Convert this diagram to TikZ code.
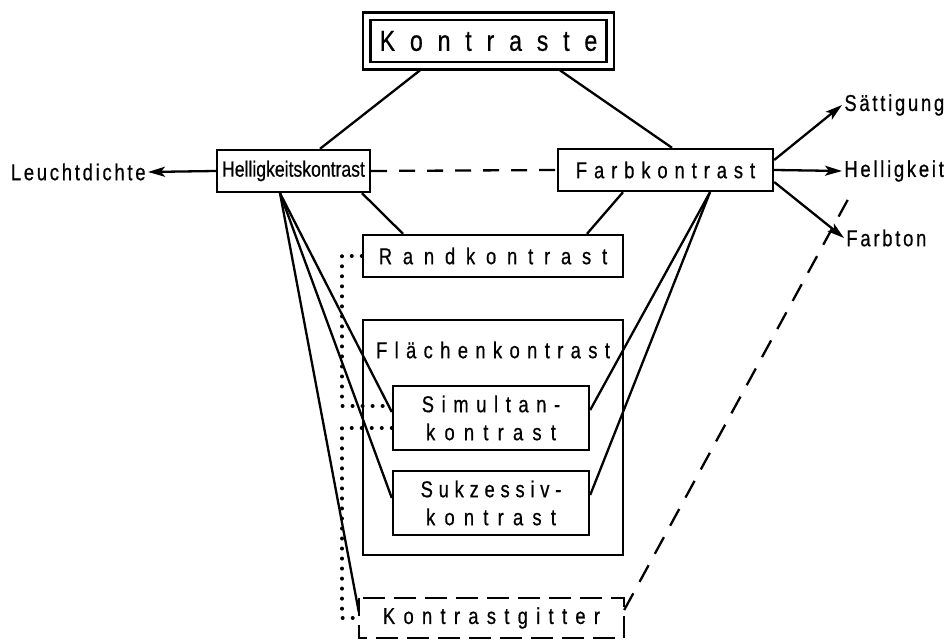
\documentclass[tikz,border=0pt]{standalone}
\usepackage{fontspec}
\setmainfont{Liberation Sans}[FakeStretch=0.8,FakeBold=0.6]
\usetikzlibrary{arrows.meta,calc}
\newcommand{\lsp}[2]{{\addfontfeatures{LetterSpace=#1}#2}}
\begin{document}
\begin{tikzpicture}[x=0.5pt,y=-0.5pt,
  boxstyle/.style={draw,line width=1.2pt,inner sep=0pt,align=center,
                   font=\fontsize{11.5}{14}\selectfont},
  lbl/.style={inner sep=1pt,font=\fontsize{11.5}{14}\selectfont},
  link/.style={line width=1.15pt},
  arr/.style={line width=1.15pt,-{Stealth[length=8.5pt,width=5pt,inset=2pt]}},
  dashlink/.style={line width=1.15pt,dash pattern=on 8pt off 6pt},
  longdash/.style={line width=1.15pt,dash pattern=on 9.5pt off 6.5pt},
  dotlink/.style={line width=2pt,line cap=round,dash pattern=on 0.01pt off 5pt}]
\useasboundingbox (0,0) rectangle (947,640);

% boxes
\node[boxstyle,double,double distance=2.4pt,outer sep=2.3pt,
      minimum width=121.75pt,minimum height=24.75pt,
      font=\fontsize{14.5}{16}\selectfont] (ko) at (488.5,41) {\lsp{51}{Kontraste}};
\node[boxstyle,minimum width=76.5pt,minimum height=21pt,
      font=\fontsize{11}{14}\selectfont] (hk) at (293.5,171) {Helligkeitskontrast};
\node[boxstyle,minimum width=107.5pt,minimum height=21pt] (fb) at (665.5,170) {\lsp{30}{Farbkontrast}};
\node[boxstyle,minimum width=130pt,minimum height=21pt] (rk) at (493,256) {\lsp{47}{Randkontrast}};
\node[boxstyle,minimum width=130pt,minimum height=117.5pt] (fk) at (493,437.5) {};
\node[lbl] (fkt) at (493,350) {\lsp{32}{Flächenkontrast}};
\node[boxstyle,minimum width=98pt,minimum height=32pt] (sim) at (491,418)
      {\lsp{33}{Simultan-}\\\lsp{40}{kontrast}};
\node[boxstyle,minimum width=98pt,minimum height=32pt] (suk) at (491,503)
      {\lsp{25}{Sukzessiv-}\\\lsp{40}{kontrast}};
\node[boxstyle,draw=none,minimum width=131.5pt,minimum height=19pt] (kg) at (491.5,618) {\lsp{36}{Kontrastgitter}};
\draw[line width=1.2pt,dash pattern=on 11pt off 4.5pt,dash phase=2pt]
  (kg.north west) rectangle (kg.south east);

% outer labels
\node[lbl,anchor=east] (ld) at (148,172) {\lsp{12}{Leuchtdichte}};
\node[lbl,anchor=west] (sat) at (842,105) {\lsp{12}{Sättigung}};
\node[lbl,anchor=west] (hel) at (842,171) {\lsp{12}{Helligkeit}};
\node[lbl,anchor=west] (ft) at (844,238) {\lsp{12}{Farbton}};
\coordinate (dend) at (852,192);

% tree links
\draw[link] (ko.south -| 420,0) -- (hk.north -| 320,0);
\draw[link] (ko.south -| 560,0) -- (fb.north -| 672,0);
\draw[link] (hk.south -| 362,0) -- (rk.north -| 403,0);
\draw[link] (fb.south -| 623,0) -- (rk.north -| 587,0);
\draw[link] (hk.south -| 280,0) -- (sim.west |- 0,412);
\draw[link] (hk.south -| 280,0) -- (suk.west |- 0,498);
\draw[link] (hk.south -| 280,0) -- (kg.west |- 0,612);
\draw[link] (fb.south -| 710,0) -- (sim.east |- 0,410);
\draw[link] (fb.south -| 710,0) -- (suk.east |- 0,495);

% arrows to the attributes
\draw[arr] (hk.west) -- (ld.east);
\draw[arr] (fb.east |- 0,160) -- (sat.west);
\draw[arr] (fb.east) -- (hel.west);
\draw[arr] (fb.east |- 0,182) -- (ft.west);

% dashed relations
\draw[dashlink] (hk.east) -- (fb.west);
\draw[longdash] (kg.east |- 0,610) -- (dend);

% dotted relations
\draw[dotlink] (rk.west) -- (342,256) -- (342,406) -- (sim.west |- 0,406);
\draw[dotlink] (sim.west |- 0,428) -- (342,428) -- (342,618) -- (kg.west |- 0,618);
\end{tikzpicture}
\end{document}
